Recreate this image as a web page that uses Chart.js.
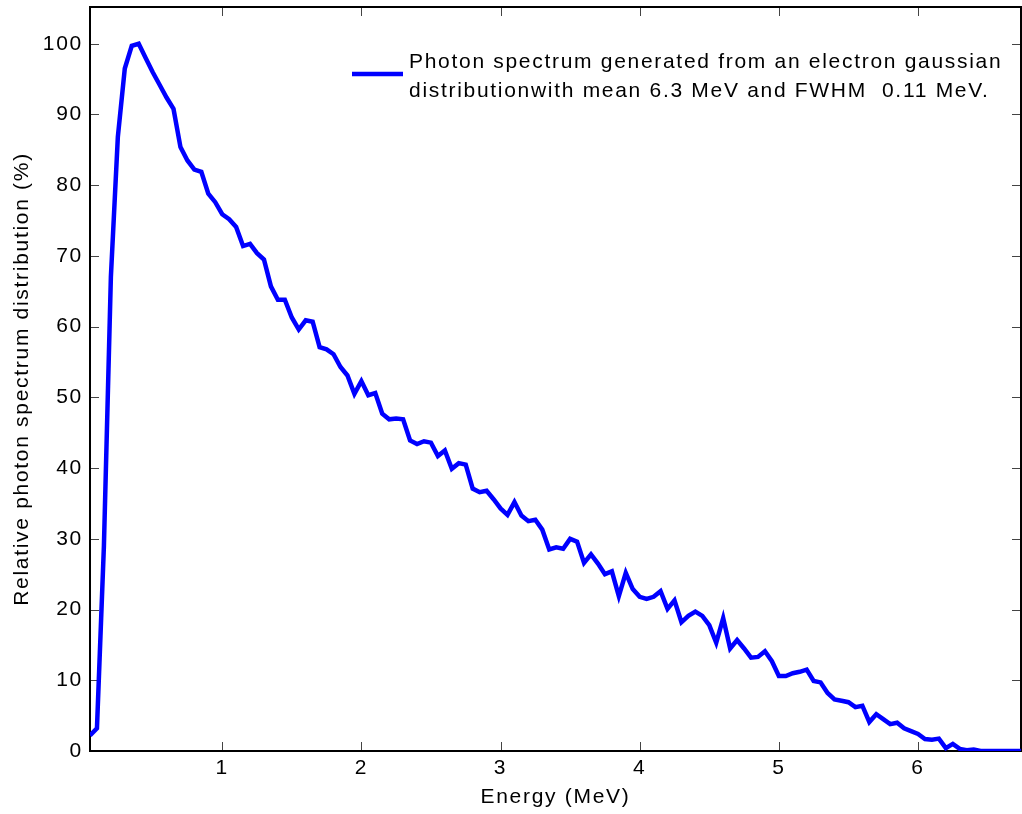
<!DOCTYPE html>
<html>
<head>
<meta charset="utf-8">
<script src="https://cdn.jsdelivr.net/npm/chart.js@4"></script>
<style>
  html, body { margin: 0; padding: 0; background: #fff; }
  #wrap { width: 1022px; height: 814px; position: relative; }
</style>
</head>
<body>
<div id="wrap"><canvas id="spectrumChart"></canvas></div>
<script>
// Energy bins (MeV)
const energy = [
  0.05, 0.10, 0.15, 0.20, 0.25, 0.30, 0.35, 0.40, 0.45, 0.50,
  0.55, 0.60, 0.65, 0.70, 0.75, 0.80, 0.85, 0.90, 0.95, 1.00,
  1.05, 1.10, 1.15, 1.20, 1.25, 1.30, 1.35, 1.40, 1.45, 1.50,
  1.55, 1.60, 1.65, 1.70, 1.75, 1.80, 1.85, 1.90, 1.95, 2.00,
  2.05, 2.10, 2.15, 2.20, 2.25, 2.30, 2.35, 2.40, 2.45, 2.50,
  2.55, 2.60, 2.65, 2.70, 2.75, 2.80, 2.85, 2.90, 2.95, 3.00,
  3.05, 3.10, 3.15, 3.20, 3.25, 3.30, 3.35, 3.40, 3.45, 3.50,
  3.55, 3.60, 3.65, 3.70, 3.75, 3.80, 3.85, 3.90, 3.95, 4.00,
  4.05, 4.10, 4.15, 4.20, 4.25, 4.30, 4.35, 4.40, 4.45, 4.50,
  4.55, 4.60, 4.65, 4.70, 4.75, 4.80, 4.85, 4.90, 4.95, 5.00,
  5.05, 5.10, 5.15, 5.20, 5.25, 5.30, 5.35, 5.40, 5.45, 5.50,
  5.55, 5.60, 5.65, 5.70, 5.75, 5.80, 5.85, 5.90, 5.95, 6.00,
  6.05, 6.10, 6.15, 6.20, 6.25, 6.30, 6.35, 6.40, 6.45, 6.50,
  6.55, 6.60, 6.65, 6.70, 6.75
];

// Relative photon spectrum distribution (%)
const spectrum = [
  2.2, 3.2, 29.0, 67.0, 86.8, 96.5, 99.7, 100.0, 98.0, 96.0,
  94.2, 92.4, 90.8, 85.4, 83.5, 82.2, 81.9, 78.8, 77.6, 75.9,
  75.2, 74.1, 71.4, 71.7, 70.4, 69.5, 65.7, 63.8, 63.8, 61.3,
  59.6, 60.9, 60.7, 57.1, 56.8, 56.1, 54.3, 53.1, 50.5, 52.3,
  50.3, 50.6, 47.7, 46.9, 47.0, 46.9, 43.9, 43.4, 43.8, 43.6,
  41.7, 42.5, 39.9, 40.7, 40.5, 37.1, 36.6, 36.8, 35.6, 34.3,
  33.4, 35.2, 33.3, 32.5, 32.7, 31.3, 28.5, 28.8, 28.6, 30.0,
  29.6, 26.6, 27.8, 26.5, 25.0, 25.4, 21.9, 25.2, 22.9, 21.8,
  21.5, 21.8, 22.6, 20.1, 21.3, 18.2, 19.1, 19.7, 19.1, 17.8,
  15.3, 18.8, 14.5, 15.7, 14.5, 13.2, 13.3, 14.1, 12.7, 10.6,
  10.6, 11.0, 11.2, 11.5, 9.9, 9.7, 8.2, 7.3, 7.1, 6.9,
  6.2, 6.4, 4.1, 5.2, 4.5, 3.8, 4.0, 3.2, 2.8, 2.4,
  1.7, 1.6, 1.75, 0.4, 1.0, 0.3, 0.1, 0.2, 0, 0,
  0, 0, 0, 0, 0
];

const xTicks = [1, 2, 3, 4, 5, 6];
const yTicks = [0, 10, 20, 30, 40, 50, 60, 70, 80, 90, 100];

const legendLines = [
  "Photon spectrum generated from an electron gaussian",
  "distributionwith mean 6.3 MeV and FWHM  0.11 MeV."
];

const LINE_BLUE = "#0000ff";
const FONT = "'Liberation Sans', Arial, Helvetica, sans-serif";
const LETTER_SPACING = "1.7px"; // matlab text renders wider than plain Arial

Chart.defaults.font.family = FONT;
Chart.defaults.font.size = 21;
Chart.defaults.color = "#000";

// box around the plot with inward ticks on all four sides, plus the legend
const matlabBox = {
  id: "matlabBox",
  beforeDraw(chart) {
    chart.ctx.letterSpacing = LETTER_SPACING;
  },
  beforeDatasetsDraw(chart) {
    const { ctx, chartArea: a, scales } = chart;
    const tickLen = 9;
    ctx.save();
    ctx.strokeStyle = "#444";
    ctx.lineWidth = 1;
    ctx.beginPath();
    scales.x.ticks.forEach(t => {
      const px = Math.round(scales.x.getPixelForValue(t.value)) + 0.5;
      ctx.moveTo(px, a.bottom); ctx.lineTo(px, a.bottom - tickLen);
      ctx.moveTo(px, a.top); ctx.lineTo(px, a.top + tickLen);
    });
    scales.y.ticks.forEach(t => {
      const py = Math.round(scales.y.getPixelForValue(t.value)) + 0.5;
      ctx.moveTo(a.left, py); ctx.lineTo(a.left + tickLen, py);
      ctx.moveTo(a.right, py); ctx.lineTo(a.right - tickLen, py);
    });
    ctx.stroke();
    ctx.strokeStyle = "#000";
    ctx.lineWidth = 2;
    ctx.strokeRect(a.left, a.top, a.right - a.left, a.bottom - a.top);
    ctx.restore();
  },
  afterDraw(chart) {
    const ctx = chart.ctx;
    ctx.save();
    ctx.strokeStyle = LINE_BLUE;
    ctx.lineWidth = 4.5;
    ctx.beginPath();
    ctx.moveTo(352, 74);
    ctx.lineTo(403, 74);
    ctx.stroke();
    ctx.fillStyle = "#000";
    ctx.font = "21px " + FONT;
    ctx.textBaseline = "alphabetic";
    ctx.textAlign = "left";
    ctx.fillText(legendLines[0], 409, 67.5);
    ctx.fillText(legendLines[1], 409, 97);
    ctx.restore();
  }
};

new Chart(document.getElementById("spectrumChart"), {
  type: "line",
  data: {
    datasets: [{
      label: legendLines.join(" "),
      data: energy.map((e, i) => ({ x: e, y: spectrum[i] })),
      borderColor: LINE_BLUE,
      backgroundColor: LINE_BLUE,
      borderWidth: 4.5,
      pointRadius: 0,
      tension: 0,
      fill: false
    }]
  },
  options: {
    responsive: true,
    maintainAspectRatio: false,
    animation: false,
    devicePixelRatio: 1,
    layout: { padding: { top: 7, right: 1, left: 0, bottom: 0 } },
    plugins: {
      legend: { display: false },
      tooltip: { enabled: false }
    },
    scales: {
      x: {
        type: "linear",
        min: 0.05,
        max: 6.74,
        afterBuildTicks: s => { s.ticks = xTicks.map(v => ({ value: v })); },
        afterFit: s => { s.height = 63; s.paddingLeft = 0; s.paddingRight = 0; },
        grid: { display: false, drawTicks: false },
        border: { display: false },
        ticks: { padding: 5, maxRotation: 0, callback: v => String(v) },
        title: {
          display: true,
          text: "Energy (MeV)",
          padding: { top: 0, bottom: 4 }
        }
      },
      y: {
        min: 0,
        max: 105.2,
        afterBuildTicks: s => { s.ticks = yTicks.map(v => ({ value: v })); },
        afterFit: s => { s.width = 90; s.paddingTop = 0; s.paddingBottom = 0; },
        grid: { display: false, drawTicks: false },
        border: { display: false },
        ticks: { padding: 7, callback: v => String(v) },
        title: {
          display: true,
          text: "Relative photon spectrum distribution (%)",
          padding: { top: 10, bottom: 0 }
        }
      }
    }
  },
  plugins: [matlabBox]
});
</script>
</body>
</html>
